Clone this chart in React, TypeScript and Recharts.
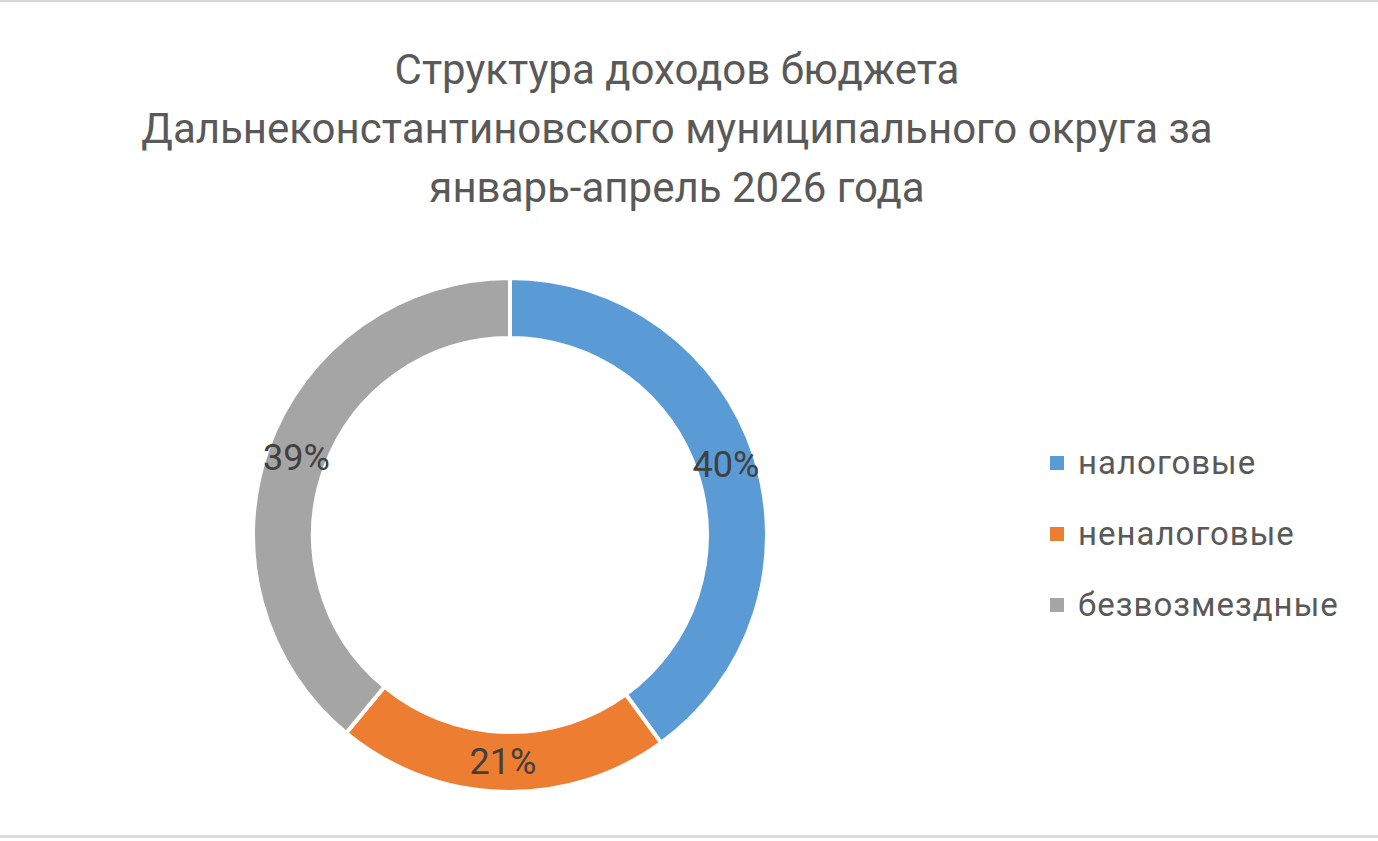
import { PieChart, Pie, Cell, Legend } from "recharts";

const categories = ["налоговые", "неналоговые", "безвозмездные"];
const shares = [40, 21, 39];
const colors = ["#5B9BD5", "#ED7D31", "#A5A5A5"];
const titleLines = [
  "Структура доходов бюджета",
  "Дальнеконстантиновского муниципального округа за",
  "январь-апрель 2026 года",
];

const data = categories.map((name, i) => ({ name, value: shares[i] }));

const RADIAN = Math.PI / 180;
const FONT = "Roboto, 'Noto Sans', sans-serif";

const renderLabel = (props: any) => {
  const { cx, cy, midAngle, innerRadius, outerRadius, value } = props;
  const r = (innerRadius + outerRadius) / 2;
  const x = cx + r * Math.cos(-midAngle * RADIAN);
  const y = cy + r * Math.sin(-midAngle * RADIAN);
  return (
    <text
      x={x}
      y={y}
      fill="#404040"
      fontSize={36}
      fontFamily={FONT}
      textAnchor="middle"
      dominantBaseline="central"
    >
      {`${value}%`}
    </text>
  );
};

const renderLegend = () => (
  <div style={{ fontFamily: FONT }}>
    {categories.map((name, i) => (
      <div
        key={name}
        style={{ display: "flex", alignItems: "center", height: 71 }}
      >
        <span
          style={{
            width: 14,
            height: 14,
            background: colors[i],
            marginRight: 14,
            display: "inline-block",
          }}
        />
        <span style={{ fontSize: 33, color: "#595959", letterSpacing: 1 }}>
          {name}
        </span>
      </div>
    ))}
  </div>
);

const App = () => {
  return (
    <div
      style={{
        position: "absolute",
        left: 0,
        top: 0,
        width: 1378,
        height: 841,
        background: "#fff",
        overflow: "hidden",
      }}
    >
      <div
        style={{
          position: "absolute",
          left: 0,
          top: 0,
          width: 1378,
          height: 2,
          background: "#d6d6d6",
        }}
      />
      <div
        style={{
          position: "absolute",
          left: 0,
          top: 835,
          width: 1378,
          height: 3,
          background: "#dcdcdc",
        }}
      />
      <div
        style={{
          position: "absolute",
          left: 0,
          top: 40,
          width: 1354,
          textAlign: "center",
          fontFamily: FONT,
          fontSize: 42,
          lineHeight: "59px",
          color: "#595959",
        }}
      >
        {titleLines.map((t) => (
          <div key={t}>{t}</div>
        ))}
      </div>
      <div style={{ position: "absolute", left: 0, top: 0 }}>
        <PieChart
          width={1378}
          height={841}
          margin={{ top: 0, right: 0, bottom: 0, left: 0 }}
        >
          <Pie
            data={data}
            dataKey="value"
            nameKey="name"
            cx={510}
            cy={535}
            innerRadius={197}
            outerRadius={257}
            startAngle={90}
            endAngle={-270}
            stroke="#fff"
            strokeWidth={4}
            label={renderLabel}
            labelLine={false}
            isAnimationActive={false}
          >
            {data.map((d, i) => (
              <Cell key={d.name} fill={colors[i]} />
            ))}
          </Pie>
          <Legend
            content={renderLegend}
            wrapperStyle={{ left: 1050, top: 427, width: 320 }}
          />
        </PieChart>
      </div>
    </div>
  );
};

export default App;
